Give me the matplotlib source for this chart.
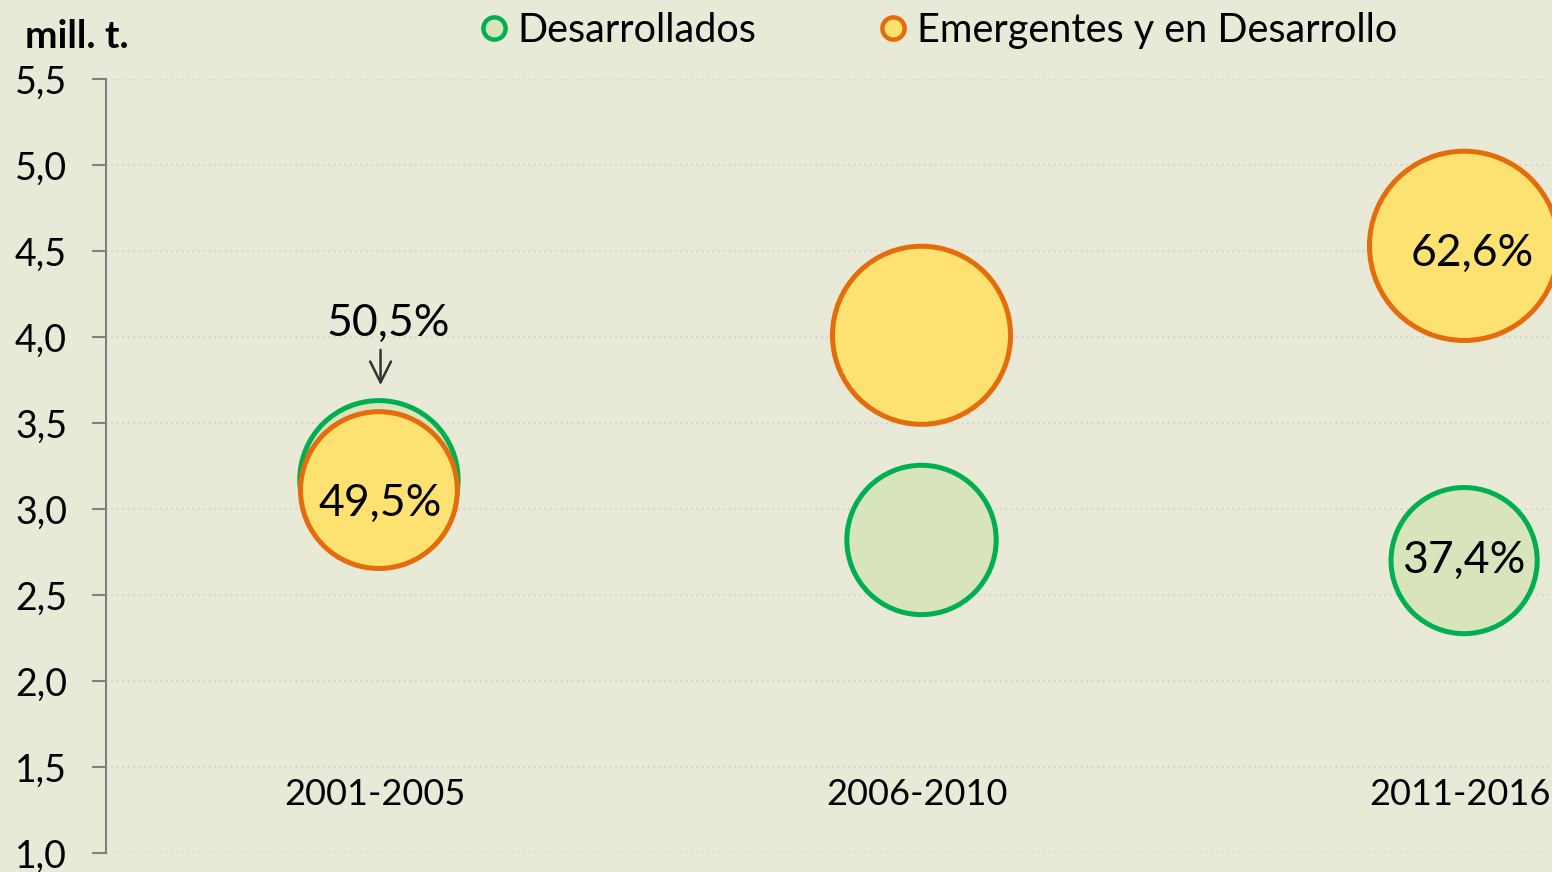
import matplotlib.pyplot as plt
from matplotlib.lines import Line2D
from matplotlib.ticker import FuncFormatter

plt.rcParams['font.family'] = ['Lato', 'DejaVu Sans']

periods = ['2001-2005', '2006-2010', '2011-2016']
desarrollados = [3.17, 2.82, 2.70]
emergentes = [3.11, 4.01, 4.53]
# share labels shown in the chart (None = no label)
pct_desarrollados = ['50,5%', None, '37,4%']
pct_emergentes = ['49,5%', None, '62,6%']

bg = '#E9E9D8'
green_edge, green_fill = '#00B050', '#D8E4BC'
orange_edge, orange_fill = '#E46C0A', '#FDE272'
size_scale = 4100

fig = plt.figure(figsize=(15.52, 8.72), dpi=100, facecolor=bg)
ax = fig.add_axes([0.0683, 0.0218, 0.9317, 0.8876], facecolor=bg)

x = [1, 2, 3]
ax.scatter(x, desarrollados, s=[v * size_scale for v in desarrollados],
           facecolor=green_fill, edgecolor=green_edge, linewidth=3.6, zorder=3)
ax.scatter(x, emergentes, s=[v * size_scale for v in emergentes],
           facecolor=orange_fill, edgecolor=orange_edge, linewidth=3.6, zorder=4)

ax.set_xlim(0.497, 3.162)
ax.set_ylim(1.0, 5.5)
ax.set_yticks([1.0 + 0.5 * i for i in range(10)])
ax.yaxis.set_major_formatter(FuncFormatter(lambda v, p: f'{v:.1f}'.replace('.', ',')))
ax.tick_params(axis='y', direction='out', length=10, width=1.5, color='#808080',
               labelsize=27, pad=18)
ax.set_xticks([])
ax.grid(axis='y', color='#D0D0D8', linestyle=(0, (1, 2)), linewidth=1.3, zorder=0)
for side in ['top', 'right', 'bottom']:
    ax.spines[side].set_visible(False)
ax.spines['left'].set_color('#808080')
ax.spines['left'].set_linewidth(1.5)

# category labels inside the plot
for xi, lab in zip(x, periods):
    ax.text(xi - 0.008, 1.34, lab, ha='center', va='center', fontsize=26, zorder=5)

# percentage labels
pct_size = 32
for xi, y, lab in zip(x, emergentes, pct_emergentes):
    if lab and xi != 1:
        ax.text(xi + 0.015, y - 0.045, lab, ha='center', va='center', fontsize=pct_size, zorder=6)
    elif lab:
        ax.text(xi + 0.002, y - 0.075, lab, ha='center', va='center', fontsize=pct_size, zorder=6)
for xi, y, lab in zip(x, desarrollados, pct_desarrollados):
    if lab and xi == 1:
        ax.text(xi + 0.017, y + 0.91, lab, ha='center', va='center', fontsize=pct_size, zorder=6)
        ax.annotate('', xy=(xi + 0.003, y + 0.55), xytext=(xi + 0.003, y + 0.755),
                    arrowprops=dict(arrowstyle='->,head_length=0.6,head_width=0.3',
                                    color='#333333', lw=1.8,
                                    mutation_scale=25, shrinkA=0, shrinkB=0))
    elif lab:
        ax.text(xi, y, lab, ha='center', va='center', fontsize=pct_size, zorder=6)

fig.text(0.016, 0.958, 'mill. t.', fontsize=28, fontweight='bold', ha='left', va='center')

handles = [Line2D([], [], marker='o', linestyle='none', markersize=16, markeredgewidth=3.2,
                  markerfacecolor=green_fill, markeredgecolor=green_edge),
           Line2D([], [], marker='o', linestyle='none', markersize=16, markeredgewidth=3.2,
                  markerfacecolor=orange_fill, markeredgecolor=orange_edge)]
fig.legend(handles, ['Desarrollados', 'Emergentes y en Desarrollo'], loc='center left',
           bbox_to_anchor=(0.2954, 0.965), ncol=2, frameon=False, fontsize=28.5,
           handlelength=0.8, handletextpad=0.2, columnspacing=3.05, borderpad=0)

fig.savefig('out.png', dpi=100, facecolor=bg)
